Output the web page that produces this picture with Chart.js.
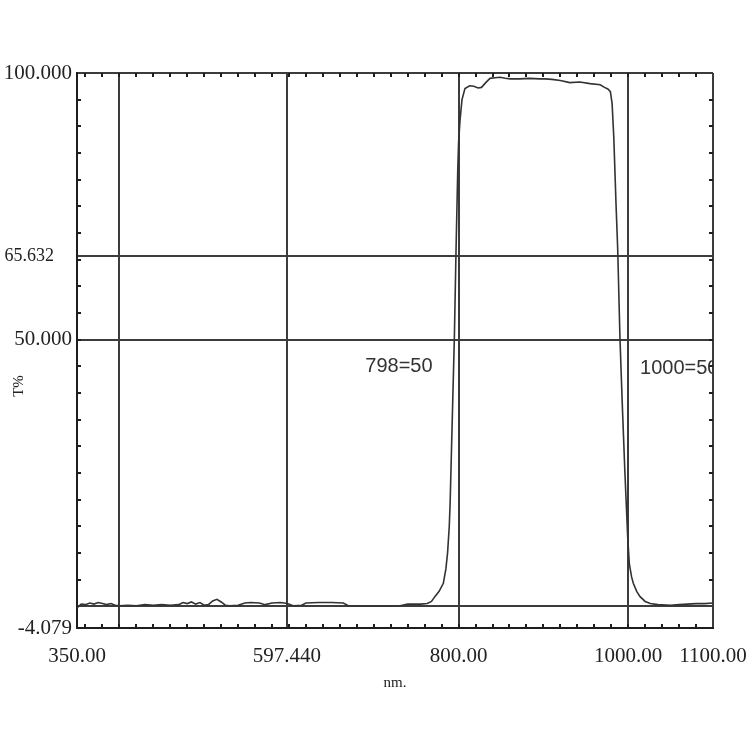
<!DOCTYPE html>
<html>
<head>
<meta charset="utf-8">
<script src="https://cdn.jsdelivr.net/npm/chart.js@4.4.1/dist/chart.umd.min.js"></script>
<style>
  html, body { margin: 0; padding: 0; background: #ffffff; }
  #wrap { width: 750px; height: 750px; }
</style>
</head>
<body>
<div id="wrap"><canvas id="c" width="750" height="750"></canvas></div>
<script>
// ---- data ----
const wavelengths = [350, 355, 360, 365, 370, 375, 380, 385, 390, 395, 400, 410, 420, 430, 440, 450, 460, 470, 475, 480,
  485, 490, 495, 500, 505, 510, 515, 520, 525, 530, 540, 548, 555, 565, 572, 580, 590, 598, 605, 615,
  620, 635, 650, 664, 670, 690, 710, 731, 740, 755, 763, 768, 772, 777, 782, 785, 787, 789, 790, 793,
  795, 797, 799, 800, 801.7, 804, 807.5, 813, 818, 823, 827, 832, 837, 843, 849, 855, 861, 872, 884, 895,
  902, 910, 920, 931, 943, 955, 967, 972, 976, 979, 981, 983, 985.6, 987.6, 990.3, 993, 996, 999.4, 1001.3, 1004,
  1006, 1010, 1014, 1020, 1026, 1035, 1050, 1060, 1070, 1080, 1090, 1100];
const transmission = [-0.3, 0.4, 0.3, 0.6, 0.4, 0.7, 0.5, 0.3, 0.5, 0.2, 0.1, 0.2, 0.1, 0.3, 0.2, 0.3, 0.2, 0.3, 0.7, 0.5,
  0.8, 0.4, 0.7, 0.2, 0.3, 1.0, 1.3, 0.8, 0.2, 0.1, 0.2, 0.6, 0.7, 0.6, 0.3, 0.6, 0.7, 0.5, 0.1, 0.2,
  0.6, 0.7, 0.7, 0.6, 0.1, 0.0, 0.0, 0.1, 0.4, 0.4, 0.5, 0.9, 1.8, 2.8, 4.3, 7.0, 10.0, 15.0, 19.3, 38.0,
  50.3, 67.0, 81.8, 87.0, 91.2, 95.0, 97.1, 97.6, 97.5, 97.2, 97.3, 98.2, 99.0, 99.1, 99.2, 99.0, 98.9, 98.9, 99.0, 98.9,
  98.9, 98.8, 98.6, 98.2, 98.3, 98.0, 97.8, 97.3, 97.0, 96.5, 94.3, 88.0, 75.6, 67.1, 50.2, 38.0, 25.5, 13.0, 8.0, 5.5,
  4.3, 2.8, 1.8, 0.9, 0.5, 0.3, 0.2, 0.3, 0.4, 0.5, 0.5, 0.6];

const xMin = 350, xMax = 1100;
const yMin = -4.079, yMax = 100;
const xTickValues = [350, 400, 597.44, 800, 1000, 1100];
const xTickLabels = ['350.00', '', '597.440', '800.00', '1000.00', '1100.00'];
const xGridValues = [400, 597.44, 800, 1000, 1100];
const yTickValues = [-4.079, 0, 50, 65.632, 100];
const yTickLabels = ['-4.079', '', '50.000', '65.632    ', '100.000'];
const yGridValues = [0, 50, 65.632, 100];
const xAxisTitle = 'nm.';
const yAxisTitle = 'T%';
const annotations = [
  { text: '798=50', x: 690, y: 45.0 },
  { text: '1000=50', x: 1014, y: 44.5 }
];

const xMinorTicks = [];
for (let v = 360; v < xMax; v += 20) xMinorTicks.push(v);
const yMinorTicks = [];
for (let v = 5; v < yMax; v += 5) yMinorTicks.push(v);

const points = wavelengths.map((w, i) => ({ x: w, y: transmission[i] }));

const AXIS_FONT = { family: "'Liberation Serif', 'Times New Roman', serif", size: 21 };
const SMALL_AXIS_FONT = { family: "'Liberation Serif', 'Times New Roman', serif", size: 18 };
const GRID_COLOR = '#3c3c3c';
const FRAME_COLOR = '#1e1e1e';

const minorTicksPlugin = {
  id: 'minorTicks',
  afterDatasetsDraw(chart) {
    const { ctx, chartArea: a, scales: { x, y } } = chart;
    ctx.save();
    ctx.strokeStyle = FRAME_COLOR;
    ctx.lineWidth = 2;
    const len = 4;
    ctx.beginPath();
    xMinorTicks.forEach(v => {
      const px = Math.round(x.getPixelForValue(v));
      ctx.moveTo(px, a.top); ctx.lineTo(px, a.top + len);
      ctx.moveTo(px, a.bottom); ctx.lineTo(px, a.bottom - len);
    });
    yMinorTicks.forEach(v => {
      const py = Math.round(y.getPixelForValue(v));
      ctx.moveTo(a.left, py); ctx.lineTo(a.left + len, py);
      ctx.moveTo(a.right, py); ctx.lineTo(a.right - len, py);
    });
    ctx.stroke();
    ctx.restore();
  }
};

const annotationPlugin = {
  id: 'annot',
  afterDatasetsDraw(chart) {
    const { ctx, chartArea: a, scales: { x, y } } = chart;
    ctx.save();
    ctx.beginPath();
    ctx.rect(a.left, a.top, a.right - a.left, a.bottom - a.top);
    ctx.clip();
    ctx.fillStyle = '#333333';
    ctx.font = "20px 'Liberation Sans', Arial, sans-serif";
    ctx.textAlign = 'left';
    ctx.textBaseline = 'middle';
    annotations.forEach(t => {
      ctx.fillText(t.text, x.getPixelForValue(t.x), y.getPixelForValue(t.y));
    });
    ctx.restore();
    // y-axis title
    ctx.save();
    ctx.fillStyle = '#222222';
    ctx.font = "15px 'Liberation Serif', serif";
    ctx.translate(19, 386);
    ctx.rotate(-Math.PI / 2);
    ctx.textAlign = 'center';
    ctx.textBaseline = 'middle';
    ctx.fillText(yAxisTitle, 0, 0);
    ctx.restore();
  }
};

new Chart(document.getElementById('c'), {
  type: 'line',
  data: {
    datasets: [{
      data: points,
      borderColor: '#333333',
      borderWidth: 1.6,
      pointRadius: 0,
      tension: 0,
      fill: false
    }]
  },
  options: {
    responsive: false,
    animation: false,
    parsing: false,
    layout: { padding: { top: 73, right: 37, left: 0, bottom: 0 } },
    plugins: { legend: { display: false }, tooltip: { enabled: false } },
    scales: {
      x: {
        type: 'linear',
        min: xMin, max: xMax,
        afterBuildTicks: s => { s.ticks = xTickValues.map(v => ({ value: v })); },
        afterFit: s => { s.height = 122; s.paddingLeft = 0; s.paddingRight = 0; },
        ticks: {
          autoSkip: false, maxRotation: 0, minRotation: 0,
          padding: 16,
          color: '#222222',
          font: AXIS_FONT,
          callback: v => { const i = xTickValues.indexOf(v); return i >= 0 ? xTickLabels[i] : ''; }
        },
        grid: {
          drawTicks: false,
          lineWidth: 2,
          color: c => (c.tick && xGridValues.includes(c.tick.value)) ? GRID_COLOR : 'rgba(0,0,0,0)'
        },
        border: { display: true, color: FRAME_COLOR, width: 2 },
        title: {
          display: true, text: xAxisTitle, color: '#222222',
          font: { family: "'Liberation Serif', serif", size: 15 },
          padding: { top: 0, bottom: 58 }
        }
      },
      y: {
        type: 'linear',
        min: yMin, max: yMax,
        afterBuildTicks: s => { s.ticks = yTickValues.map(v => ({ value: v })); },
        afterFit: s => { s.width = 77; s.paddingTop = 0; s.paddingBottom = 0; },
        ticks: {
          autoSkip: false,
          padding: 5,
          color: '#222222',
          font: c => (c.tick && c.tick.value === 65.632) ? SMALL_AXIS_FONT : AXIS_FONT,
          callback: v => { const i = yTickValues.indexOf(v); return i >= 0 ? yTickLabels[i] : ''; }
        },
        grid: {
          drawTicks: false,
          lineWidth: 2,
          color: c => (c.tick && yGridValues.includes(c.tick.value)) ? GRID_COLOR : 'rgba(0,0,0,0)'
        },
        border: { display: true, color: FRAME_COLOR, width: 2 }
      }
    }
  },
  plugins: [minorTicksPlugin, annotationPlugin]
});
</script>
</body>
</html>
